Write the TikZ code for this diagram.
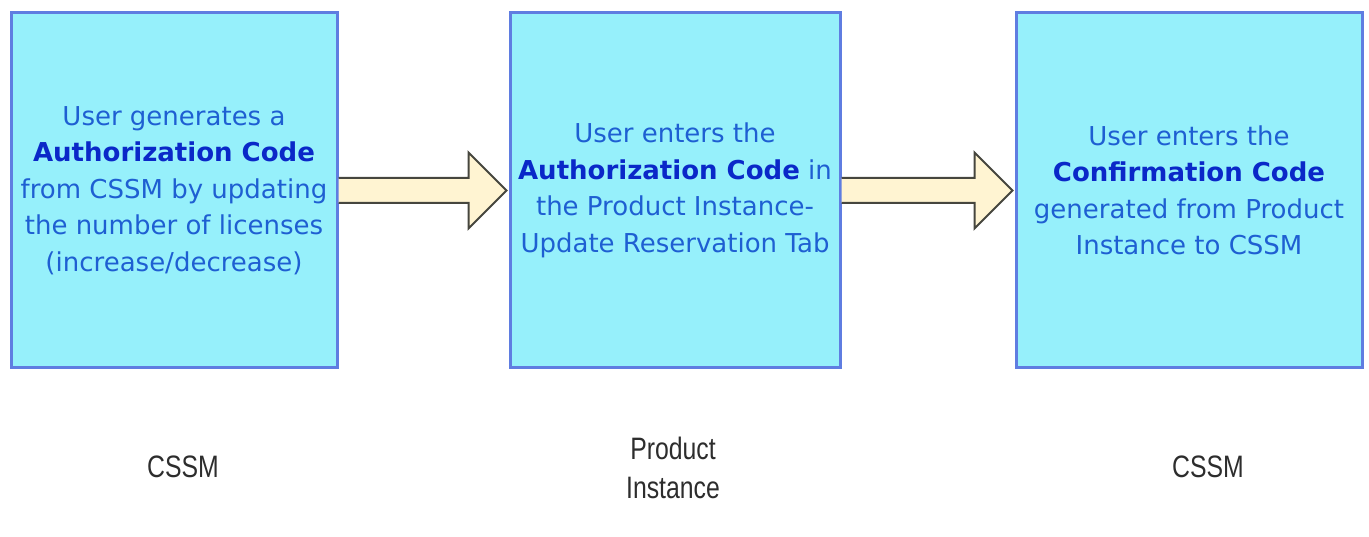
\documentclass[tikz,border=0pt]{standalone}
\usepackage{fontspec}
\setmainfont{DejaVu Sans}
\newfontfamily\labelfont{Liberation Sans}
\usetikzlibrary{calc}
\definecolor{boxfill}{RGB}{150,240,251}
\definecolor{boxline}{RGB}{95,125,225}
\definecolor{txtblue}{RGB}{30,95,210}
\definecolor{boldblue}{RGB}{10,40,200}
\definecolor{arrfill}{RGB}{255,244,210}
\definecolor{arrline}{RGB}{70,70,62}
\definecolor{lbl}{RGB}{45,45,45}
\newcommand{\bc}[1]{\textbf{\color{boldblue}#1}}
\newcommand{\nrw}[1]{\scalebox{0.8}[1]{#1}}
\begin{document}
\begin{tikzpicture}[x=1pt,y=-1pt,
  stepbox/.style={draw=boxline, line width=3pt, fill=boxfill, minimum width=326pt, minimum height=355pt,
    inner sep=0pt, align=center, text=txtblue, font=\fontsize{26}{36.5}\selectfont},
  bigarrow/.style={draw=arrline, line width=2pt, fill=arrfill, line join=miter},
  caption/.style={text=lbl, align=center, font=\labelfont\fontsize{31}{39}\selectfont}]
\useasboundingbox (0,0) rectangle (1369,537);
\node[stepbox] (b1) at (174,190.5) {User generates a\\\bc{Authorization Code}\\from CSSM by updating\\the number of licenses\\(increase/decrease)};
\node[stepbox, minimum width=330pt] (b2) at (675,190.5) {User enters the\\\bc{Authorization Code} in\\the Product Instance-\\Update Reservation Tab};
\node[stepbox, minimum width=346pt] (b3) at (1189,190.5) {User enters the\\\bc{Confirmation Code}\\generated from Product\\Instance to CSSM};
\foreach \a/\b in {b1/b2, b2/b3}{
  \draw[bigarrow] ($(\a.east)+(0,-12.5)$) -- ($(\b.west)+(-40,-12.5)$) -- ($(\b.west)+(-40,-38)$)
    -- ($(\b.west)+(-2,0)$) -- ($(\b.west)+(-40,38)$) -- ($(\b.west)+(-40,12.5)$) -- ($(\a.east)+(0,12.5)$);
}
\node[caption] (c1) at (183,466.5) {\nrw{CSSM}};
\node[caption] (c2) at (673,468) {\nrw{Product}\\\nrw{Instance}};
\node[caption] (c3) at (1208,466.5) {\nrw{CSSM}};
\end{tikzpicture}
\end{document}
